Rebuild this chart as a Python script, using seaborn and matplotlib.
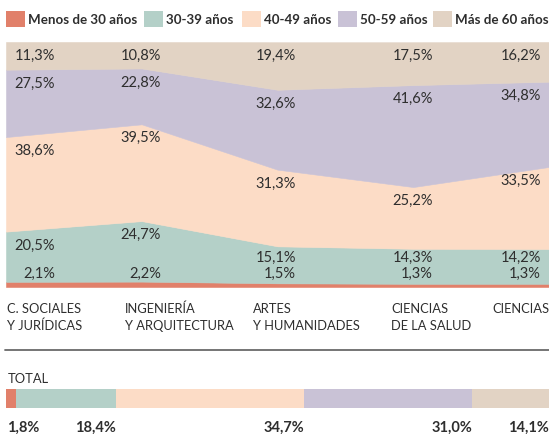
import matplotlib
matplotlib.use("Agg")
import matplotlib.pyplot as plt
import matplotlib.transforms as mtrans
from matplotlib.patches import Rectangle
from matplotlib.lines import Line2D
import numpy as np
import seaborn as sns

# ---------------- data ----------------
groups = ["Menos de 30 años", "30-39 años", "40-49 años", "50-59 años", "Más de 60 años"]
categories = ["C. SOCIALES\nY JURÍDICAS", "INGENIERÍA\nY ARQUITECTURA", "ARTES\nY HUMANIDADES",
              "CIENCIAS\nDE LA SALUD", "CIENCIAS"]
menos30 = [2.1, 2.2, 1.5, 1.3, 1.3]
a30_39 = [20.5, 24.7, 15.1, 14.3, 14.2]
a40_49 = [38.6, 39.5, 31.3, 25.2, 33.5]
a50_59 = [27.5, 22.8, 32.6, 41.6, 34.8]
mas60 = [11.3, 10.8, 19.4, 17.5, 16.2]
total_label = "TOTAL"
total = [1.8, 18.4, 34.7, 31.0, 14.1]

colors = ["#E1806A", "#B4D0C8", "#FCDCC6", "#C9C2D6", "#E2D3C4"]
text_col = "#2e2e2e"

sns.set_theme(style="white")
plt.rcParams["font.family"] = ["Lato", "DejaVu Sans"]

W, H = 549, 435
fig = plt.figure(figsize=(W / 100, H / 100), dpi=100)
fig.patch.set_facecolor("white")


def fx(px):
    return px / W


def fy(py):
    return 1 - py / H


def fmt(v):
    return f"{v:.1f}%".replace(".", ",")


series = [menos30, a30_39, a40_49, a50_59, mas60]

# ---------------- stacked area ----------------
ax = fig.add_axes([fx(6), fy(288), fx(549) - fx(6), fy(43) - fy(288)])
x = np.arange(len(categories))
polys = ax.stackplot(x, *series, colors=colors)
for p, c in zip(polys, colors):
    p.set_edgecolor(c)
    p.set_linewidth(0.4)
ax.set_xlim(0, len(categories) - 1)
ax.set_ylim(0, 100)
ax.axis("off")

# value labels (right aligned per column)
col_px = [55, 161, 296, 433, 541]
step = (549 - 6) / (len(categories) - 1)
col_x = [(p - 6) / step for p in col_px]
cum = np.cumsum(np.array(series), axis=0)
for k, s in enumerate(series):
    for i, v in enumerate(s):
        top = cum[k][i]
        if k == 0:
            yv = 5.7
        elif k == 1:
            yv = max(top - 5.3, 12.3)
        else:
            yv = top - 5.3
        ax.text(col_x[i], yv, fmt(v), ha="right", va="center", fontsize=10.5,
                color=text_col, clip_on=False)

# category labels
cat_px = [7, 125, 253, 391, 492]
for px, lab in zip(cat_px, categories):
    lines = lab.split("\n")
    for j, ln in enumerate(lines):
        fig.text(fx(px), fy(313 + 17 * j), ln, ha="left", va="baseline",
                 fontsize=9.3, color=text_col)

# ---------------- legend ----------------
sq_px = [6, 144, 242, 338, 433]
for px, c, g in zip(sq_px, colors, groups):
    fig.patches.append(Rectangle((fx(px), fy(28)), fx(18.5), 16 / H, transform=fig.transFigure,
                                 facecolor=c, edgecolor="none"))
    fig.text(fx(px + 22), fy(20.5), g, ha="left", va="center", fontsize=9.6,
             fontweight="bold", color=text_col)

# separator line
fig.add_artist(Line2D([fx(5), fx(549)], [fy(351), fy(351)], transform=fig.transFigure,
                      color="#6a6a6a", lw=1.3))

# ---------------- total bar ----------------
fig.text(fx(8), fy(383), total_label, ha="left", va="baseline", fontsize=9.3, color=text_col)
ax2 = fig.add_axes([fx(6), fy(409), fx(549) - fx(6), fy(390) - fy(409)])
tcum = np.cumsum(total)
for val, c in reversed(list(zip(tcum, colors))):
    sns.barplot(x=[val], y=[total_label], color=c, orient="h", width=1.0, ax=ax2,
                saturation=1, linewidth=0)
ax2.set_xlim(0, 100)
ax2.set_ylim(0.5, -0.5)
ax2.axis("off")

tr = mtrans.blended_transform_factory(ax2.transData, fig.transFigure)
for i, v in enumerate(total):
    if i == 0:
        ax2.text(0.2, fy(432), fmt(v), transform=tr, ha="left", va="baseline",
                 fontsize=10.5, fontweight="bold", color=text_col)
    else:
        ax2.text(tcum[i], fy(432), fmt(v), transform=tr, ha="right", va="baseline",
                 fontsize=10.5, fontweight="bold", color=text_col)

fig.savefig("out.png", dpi=100)
